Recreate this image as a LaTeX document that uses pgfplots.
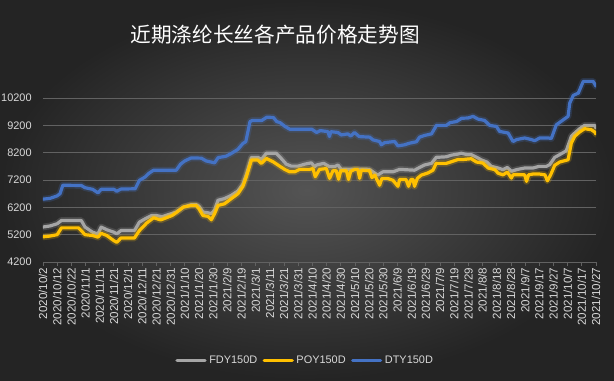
\documentclass[border=0pt]{standalone}
\usepackage{pgfplots}
\pgfplotsset{compat=1.18}
\usepackage{fontspec}
\setmainfont{Liberation Sans}
\newfontfamily\cjk{Noto Sans CJK SC}
\definecolor{cgray}{RGB}{165,165,165}
\definecolor{cyellow}{RGB}{255,192,0}
\definecolor{cblue}{RGB}{68,114,196}
\definecolor{ctext}{RGB}{217,217,217}
\definecolor{cgrid}{RGB}{98,98,98}
\begin{document}
\begin{tikzpicture}
\path[use as bounding box] (0,0) rectangle (460.5pt,285pt);
\shade[inner color={rgb,255:red,84;green,84;blue,84}, outer color={rgb,255:red,36;green,36;blue,36}] (0,0) rectangle (460.5pt,285pt);
\node[font=\cjk\fontsize{15.5}{18}\selectfont, text=white] at (206.25pt,258.75pt) {近期涤纶长丝各产品价格走势图};
\begin{axis}[
  at={(32.25pt,88.5pt)}, anchor=south west,
  scale only axis, width=414.75pt, height=139.35pt,
  xmin=0, xmax=390, ymin=4200, ymax=11000,
  axis x line*=bottom, axis y line*=left,
  x axis line style={color=cgrid, line width=0.6pt},
  y axis line style={draw=none},
  ymajorgrids, grid style={color=cgrid, line width=0.6pt},
  ytick={4200,5200,6200,7200,8200,9200,10200},
  scaled y ticks=false,
  /pgf/number format/assume math mode=true,
  /pgf/number format/1000 sep={},
  yticklabel style={font=\fontsize{8.2}{9}\selectfont, text=ctext, xshift=-2pt},
  ytick style={draw=none},
  xtick={0,10,...,390},
  xticklabels={2020/10/2,2020/10/12,2020/10/22,2020/11/1,2020/11/11,2020/11/21,2020/12/1,2020/12/11,2020/12/21,2020/12/31,2021/1/10,2021/1/20,2021/1/30,2021/2/9,2021/2/19,2021/3/1,2021/3/11,2021/3/21,2021/3/31,2021/4/10,2021/4/20,2021/4/30,2021/5/10,2021/5/20,2021/5/30,2021/6/9,2021/6/19,2021/6/29,2021/7/9,2021/7/19,2021/7/29,2021/8/8,2021/8/18,2021/8/28,2021/9/7,2021/9/17,2021/9/27,2021/10/7,2021/10/17,2021/10/27},
  xticklabel style={rotate=90, anchor=east, font=\fontsize{8.7}{9}\selectfont, text=ctext, inner sep=1pt},
  x tick style={color=cgrid, line width=0.6pt},
  tick align=outside, major tick length=3pt,
  legend columns=3,
  legend style={at={(0.4747,-0.531)}, anchor=center, draw=none, fill=none, text=ctext, font=\fontsize{8.2}{9}\selectfont, /tikz/every even column/.append style={column sep=2pt}},
  legend image code/.code={\draw[#1, line width=2.4pt] (0pt,0pt) -- (21pt,0pt);},
  every axis plot/.append style={line join=round, line cap=round},
]
% FDY glow + line
\addplot[cgray, line width=5pt, opacity=0.22, forget plot] coordinates {
(0,5480) (5,5520) (10,5600) (13,5720) (27,5720) (29.6,5480) (35,5290) (38.8,5230) (41,5480) (45,5380) (50,5290) (52,5230) (55,5350) (64.5,5350) (68,5660) (72,5780) (76.5,5900) (80,5900) (84,5860) (90,5960) (94,6030) (99,6210) (104.6,6300) (108,6300) (110,6240) (112.8,6030) (116.4,6000) (118.7,5970) (121,6100) (123.4,6460) (128,6520) (132.8,6640) (137.5,6800) (141,7050) (143.4,7400) (147,8030) (151.6,8030) (154,7950) (157.5,8180) (164.5,8180) (168,7990) (171.6,7780) (175,7710) (180,7710) (184.5,7780) (189.2,7830) (191.6,7690) (193,7750) (198,7810) (200,7750) (202,7690) (206,7700) (208,7750) (210.4,7590) (220,7600) (230,7590) (232.7,7500) (236,7380) (239.7,7500) (246.8,7500) (251.5,7590) (262,7560) (265.6,7660) (269,7750) (274,7810) (277.3,8030) (284.4,8050) (288,8110) (292.6,8150) (295,8180) (299,8130) (302,8130) (306,8030) (309,7940) (313,7860) (316.2,7700) (321,7640) (324.4,7580) (327.5,7660) (330.3,7520) (334,7580) (339.7,7640) (345.6,7640) (349.8,7700) (355,7700) (357.3,7760) (360.9,8030) (364.4,8130) (369,8270) (372.6,8800) (375,8920) (378.5,9080) (382,9200) (389,9200) (390,9100)};
\addplot[cgray, line width=2.4pt] coordinates {
(0,5480) (5,5520) (10,5600) (13,5720) (27,5720) (29.6,5480) (35,5290) (38.8,5230) (41,5480) (45,5380) (50,5290) (52,5230) (55,5350) (64.5,5350) (68,5660) (72,5780) (76.5,5900) (80,5900) (84,5860) (90,5960) (94,6030) (99,6210) (104.6,6300) (108,6300) (110,6240) (112.8,6030) (116.4,6000) (118.7,5970) (121,6100) (123.4,6460) (128,6520) (132.8,6640) (137.5,6800) (141,7050) (143.4,7400) (147,8030) (151.6,8030) (154,7950) (157.5,8180) (164.5,8180) (168,7990) (171.6,7780) (175,7710) (180,7710) (184.5,7780) (189.2,7830) (191.6,7690) (193,7750) (198,7810) (200,7750) (202,7690) (206,7700) (208,7750) (210.4,7590) (220,7600) (230,7590) (232.7,7500) (236,7380) (239.7,7500) (246.8,7500) (251.5,7590) (262,7560) (265.6,7660) (269,7750) (274,7810) (277.3,8030) (284.4,8050) (288,8110) (292.6,8150) (295,8180) (299,8130) (302,8130) (306,8030) (309,7940) (313,7860) (316.2,7700) (321,7640) (324.4,7580) (327.5,7660) (330.3,7520) (334,7580) (339.7,7640) (345.6,7640) (349.8,7700) (355,7700) (357.3,7760) (360.9,8030) (364.4,8130) (369,8270) (372.6,8800) (375,8920) (378.5,9080) (382,9200) (389,9200) (390,9100)};
\addlegendentry{FDY150D}
% POY
\addplot[cyellow, line width=5pt, opacity=0.22, forget plot] coordinates {
(0,5120) (5,5150) (10,5200) (13,5450) (25,5450) (27,5350) (29.6,5200) (35,5170) (38.8,5110) (41,5250) (45,5170) (50,4980) (52,4920) (55,5080) (64.5,5080) (68,5350) (73,5620) (78,5820) (83,5740) (87,5820) (91,5900) (94.5,6030) (99,6210) (104.6,6270) (108,6270) (110,6150) (112.8,5900) (116.4,5870) (118.7,5745) (121,5970) (123.4,6270) (128,6330) (132.8,6520) (137.5,6700) (141,6970) (143.4,7320) (147,7930) (151.6,7930) (154,7810) (157.5,7990) (162.2,7870) (165.7,7750) (170.4,7590) (174,7500) (177.5,7500) (181,7590) (188,7590) (190.4,7620) (192,7320) (195,7590) (199.8,7620) (202.1,7260) (204.5,7540) (206.8,7540) (208.5,7230) (210,7540) (214,7540) (215.5,7220) (217,7520) (219.8,7590) (222,7590) (223.3,7260) (224.5,7560) (230.3,7540) (232,7290) (234,7380) (237.4,7010) (239,7260) (243,7260) (246.8,7190) (250.3,6970) (251.5,7220) (256,7220) (257.8,6970) (259.5,7220) (261,7220) (262,6970) (264,7260) (266.8,7380) (271.5,7460) (275,7560) (277.3,7810) (284.4,7810) (288,7870) (292.6,7950) (296,7950) (302,7980) (305.6,7860) (310.3,7820) (313.9,7640) (318.6,7580) (321,7450) (324.4,7390) (327.5,7490) (330.3,7270) (331.5,7390) (339.7,7390) (341,7150) (342.5,7390) (345.6,7420) (350,7420) (354,7390) (355.7,7170) (358,7390) (360.9,7740) (364.4,7860) (370.3,7940) (372.6,8550) (375,8800) (378.5,8960) (382,9080) (386.7,9040) (389,8960) (390,8880)};
\addplot[cyellow, line width=2.4pt] coordinates {
(0,5120) (5,5150) (10,5200) (13,5450) (25,5450) (27,5350) (29.6,5200) (35,5170) (38.8,5110) (41,5250) (45,5170) (50,4980) (52,4920) (55,5080) (64.5,5080) (68,5350) (73,5620) (78,5820) (83,5740) (87,5820) (91,5900) (94.5,6030) (99,6210) (104.6,6270) (108,6270) (110,6150) (112.8,5900) (116.4,5870) (118.7,5745) (121,5970) (123.4,6270) (128,6330) (132.8,6520) (137.5,6700) (141,6970) (143.4,7320) (147,7930) (151.6,7930) (154,7810) (157.5,7990) (162.2,7870) (165.7,7750) (170.4,7590) (174,7500) (177.5,7500) (181,7590) (188,7590) (190.4,7620) (192,7320) (195,7590) (199.8,7620) (202.1,7260) (204.5,7540) (206.8,7540) (208.5,7230) (210,7540) (214,7540) (215.5,7220) (217,7520) (219.8,7590) (222,7590) (223.3,7260) (224.5,7560) (230.3,7540) (232,7290) (234,7380) (237.4,7010) (239,7260) (243,7260) (246.8,7190) (250.3,6970) (251.5,7220) (256,7220) (257.8,6970) (259.5,7220) (261,7220) (262,6970) (264,7260) (266.8,7380) (271.5,7460) (275,7560) (277.3,7810) (284.4,7810) (288,7870) (292.6,7950) (296,7950) (302,7980) (305.6,7860) (310.3,7820) (313.9,7640) (318.6,7580) (321,7450) (324.4,7390) (327.5,7490) (330.3,7270) (331.5,7390) (339.7,7390) (341,7150) (342.5,7390) (345.6,7420) (350,7420) (354,7390) (355.7,7170) (358,7390) (360.9,7740) (364.4,7860) (370.3,7940) (372.6,8550) (375,8800) (378.5,8960) (382,9080) (386.7,9040) (389,8960) (390,8880)};
\addlegendentry{POY150D}
% DTY
\addplot[cblue, line width=5pt, opacity=0.22, forget plot] coordinates {
(0,6500) (5,6530) (10,6620) (12,6700) (14,7010) (27,7000) (29.6,6920) (35,6860) (38.8,6730) (41,6860) (50,6860) (52,6790) (55,6870) (65,6880) (68,7190) (72,7310) (75,7460) (78,7560) (94,7560) (97,7780) (100,7900) (104.6,8010) (111.7,8000) (115,7900) (121,7830) (123.5,8020) (129,8070) (132.7,8170) (137.4,8320) (141,8540) (143,8600) (146,9340) (147.7,9380) (154.3,9380) (157.8,9500) (162.5,9490) (164.8,9340) (167.2,9300) (170.7,9160) (174,9060) (189.5,9060) (193,8940) (195.6,9010) (201,8970) (202,8790) (203,8970) (208,8940) (210.4,8850) (215,8890) (217,8810) (219.7,8940) (223,8790) (230.4,8770) (232.7,8670) (237.4,8610) (238.6,8490) (241,8570) (248,8610) (250.3,8450) (255,8490) (258.6,8550) (263.3,8600) (265.6,8770) (269,8830) (274,8890) (277.5,9200) (284.5,9200) (287,9300) (291.7,9340) (295.2,9460) (299.7,9470) (303.3,9530) (306.8,9430) (311.5,9380) (315,9200) (319.8,9160) (322,8980) (328,8920) (331.5,8610) (334,8680) (339.7,8740) (344.4,8680) (346.8,8640) (350.3,8740) (356.2,8740) (358.5,8720) (362,9220) (366.8,9400) (370.3,9530) (371.5,10020) (374,10300) (377.5,10380) (381,10810) (388,10810) (390,10630)};
\addplot[cblue, line width=2.4pt] coordinates {
(0,6500) (5,6530) (10,6620) (12,6700) (14,7010) (27,7000) (29.6,6920) (35,6860) (38.8,6730) (41,6860) (50,6860) (52,6790) (55,6870) (65,6880) (68,7190) (72,7310) (75,7460) (78,7560) (94,7560) (97,7780) (100,7900) (104.6,8010) (111.7,8000) (115,7900) (121,7830) (123.5,8020) (129,8070) (132.7,8170) (137.4,8320) (141,8540) (143,8600) (146,9340) (147.7,9380) (154.3,9380) (157.8,9500) (162.5,9490) (164.8,9340) (167.2,9300) (170.7,9160) (174,9060) (189.5,9060) (193,8940) (195.6,9010) (201,8970) (202,8790) (203,8970) (208,8940) (210.4,8850) (215,8890) (217,8810) (219.7,8940) (223,8790) (230.4,8770) (232.7,8670) (237.4,8610) (238.6,8490) (241,8570) (248,8610) (250.3,8450) (255,8490) (258.6,8550) (263.3,8600) (265.6,8770) (269,8830) (274,8890) (277.5,9200) (284.5,9200) (287,9300) (291.7,9340) (295.2,9460) (299.7,9470) (303.3,9530) (306.8,9430) (311.5,9380) (315,9200) (319.8,9160) (322,8980) (328,8920) (331.5,8610) (334,8680) (339.7,8740) (344.4,8680) (346.8,8640) (350.3,8740) (356.2,8740) (358.5,8720) (362,9220) (366.8,9400) (370.3,9530) (371.5,10020) (374,10300) (377.5,10380) (381,10810) (388,10810) (390,10630)};
\addlegendentry{DTY150D}
\end{axis}
\end{tikzpicture}
\end{document}
